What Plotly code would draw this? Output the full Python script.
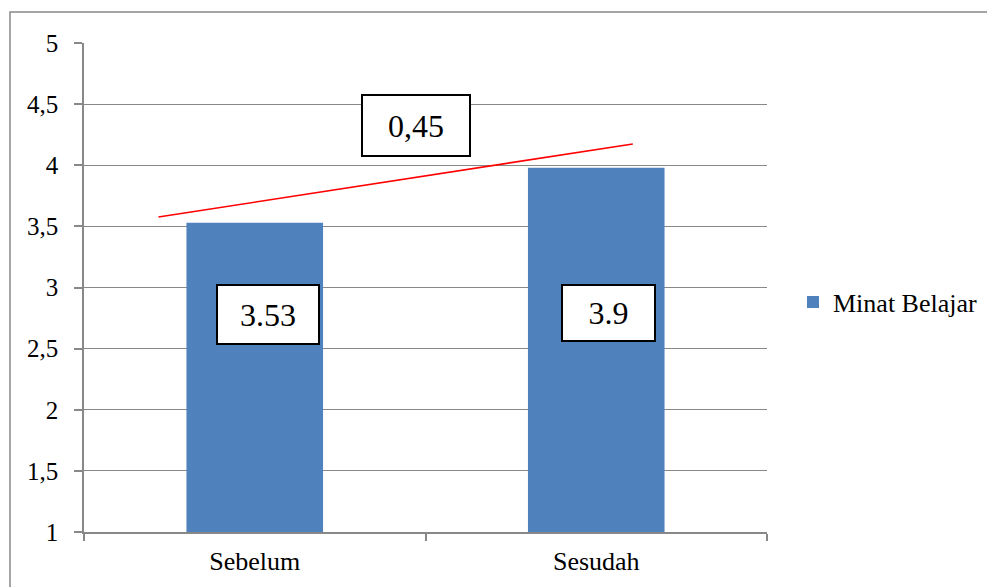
import plotly.graph_objects as go

# Mean "Minat Belajar" score before and after
categories = ["Sebelum", "Sesudah"]
scores = [3.53, 3.98]
box_labels = ["3.53", "3.9"]
gain_label = "0,45"
series_name = "Minat Belajar"

y_ticks = [1, 1.5, 2, 2.5, 3, 3.5, 4, 4.5, 5]
y_tick_text = ["1", "1,5", "2", "2,5", "3", "3,5", "4", "4,5", "5"]

FONT = "Liberation Serif"
GRID = "#888888"
BAR = "#4F81BD"

W, H = 987, 587
L, R, T, B = 84, 220, 43, 55
pw, ph = W - L - R, H - T - B


def px_to_paper_x(px):
    return (px - L) / pw


def px_to_paper_y(py):
    return (H - B - py) / ph


fig = go.Figure()
fig.add_trace(go.Bar(
    x=categories, y=scores, name=series_name,
    marker=dict(color=BAR, line=dict(width=0)),
    width=0.4, showlegend=True,
))

# text boxes: value labels inside the bars and the gain above them
box_style = dict(showarrow=False, bordercolor="black", borderwidth=2,
                 bgcolor="white", borderpad=0,
                 font=dict(family=FONT, size=32, color="black"),
                 xref="x", yref="y", valign="middle")
box_pos = [(0.038, 2.78, 100, 57), (1.037, 2.795, 91, 54)]
for txt, (bx, by, bw, bh) in zip(box_labels, box_pos):
    fig.add_annotation(x=bx, y=by, text=txt, width=bw, height=bh, **box_style)
fig.add_annotation(x=0.471, y=4.323, text=gain_label, width=106, height=59,
                   **box_style)

# red trend line across the two bars
fig.add_shape(type="line", xref="x", yref="y",
              x0=-0.282, y0=scores[0] + 0.047,
              x1=1.107, y1=scores[1] + 0.194,
              line=dict(color="red", width=1.6))

# chart frame
fig.add_shape(type="rect", xref="paper", yref="paper",
              x0=px_to_paper_x(10), y0=px_to_paper_y(600),
              x1=px_to_paper_x(1000), y1=px_to_paper_y(12),
              line=dict(color=GRID, width=1.5), layer="below")

fig.update_layout(
    width=W, height=H,
    margin=dict(l=L, r=R, t=T, b=B, autoexpand=False),
    paper_bgcolor="white", plot_bgcolor="white",
    font=dict(family=FONT, color="black"),
    bargap=0.6,
    legend=dict(x=px_to_paper_x(793), y=px_to_paper_y(302),
                xanchor="left", yanchor="middle",
                font=dict(family=FONT, size=26, color="black"),
                bgcolor="rgba(0,0,0,0)", itemwidth=30),
    xaxis=dict(
        type="category", range=[-0.5, 1.5],
        showline=True, linecolor=GRID, linewidth=1.5,
        ticks="outside", tickson="boundaries", ticklen=7,
        tickcolor=GRID, tickwidth=1.5,
        showgrid=False, zeroline=False,
        tickfont=dict(family=FONT, size=26, color="black"),
        ticklabelstandoff=5,
    ),
    yaxis=dict(
        range=[1, 5], tickvals=y_ticks, ticktext=y_tick_text,
        showline=True, linecolor=GRID, linewidth=1.5,
        ticks="outside", ticklen=8, tickcolor=GRID, tickwidth=1.5,
        showgrid=True, gridcolor=GRID, gridwidth=1.3,
        zeroline=False,
        tickfont=dict(family=FONT, size=25, color="black"),
        ticklabelstandoff=11,
    ),
)

fig.write_html("out.html")
